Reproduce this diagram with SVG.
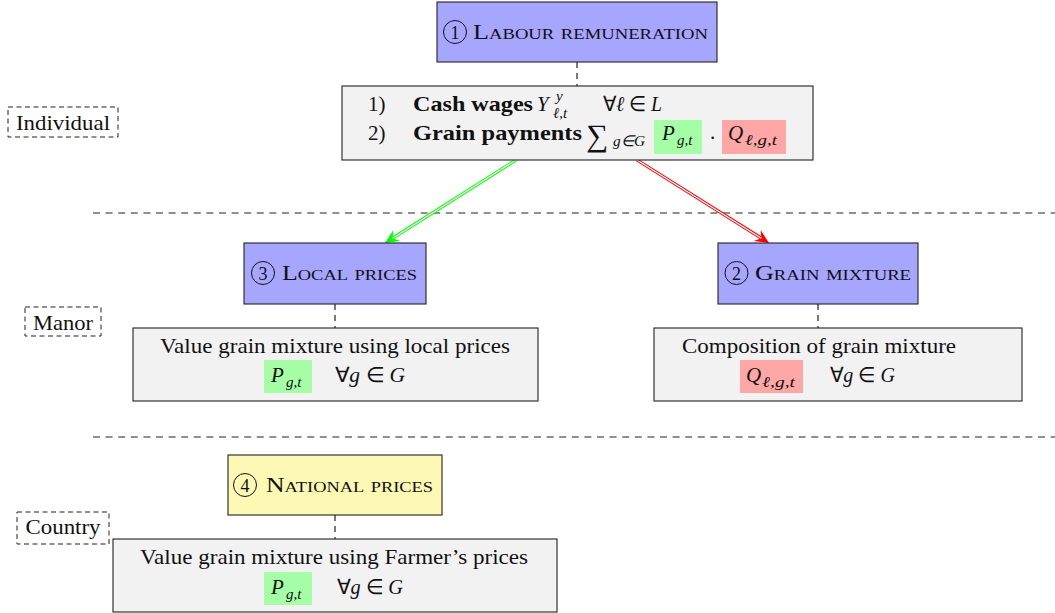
<svg xmlns="http://www.w3.org/2000/svg" width="1055" height="613" viewBox="0 0 1055 613" font-family="'Liberation Serif', 'Times New Roman', serif">
<defs>
<style>
text{font-family:'Liberation Serif','Times New Roman',serif;font-size:21px;fill:#111}
.sc{font-variant:small-caps}
.b{font-weight:bold}
.i{font-style:italic}
.s{font-size:15px;font-style:italic}
.m{text-anchor:middle}
.node{stroke:#222;stroke-width:1.1}
.blue{fill:#a6a6ff}
.gray{fill:#f2f2f2}
.yellow{fill:#fdf8b3}
.hg{fill:#a6ffa6}
.hr{fill:#ffa6a6}
.circ{fill:none;stroke:#111;stroke-width:1}
.dash{stroke:#222;stroke-width:1.2;stroke-dasharray:7 5.6;fill:none}
.vdash{stroke:#222;stroke-width:1.2;stroke-dasharray:6 5;fill:none}
.lab{fill:none;stroke:#222;stroke-width:1;stroke-dasharray:5 3.5}
.dig{font-size:18px;text-anchor:middle}
</style>
<marker id="ahg" viewBox="-6 -7 16 14" refX="0" refY="0" markerWidth="16" markerHeight="14" markerUnits="userSpaceOnUse" orient="auto"><path d="M9,0 L-5,-6.5 L0,0 L-5,6.5 z" fill="#00ff00"/></marker>
<marker id="ahr" viewBox="-6 -7 16 14" refX="0" refY="0" markerWidth="16" markerHeight="14" markerUnits="userSpaceOnUse" orient="auto"><path d="M9,0 L-5,-6.5 L0,0 L-5,6.5 z" fill="#ff0000"/></marker>
</defs>
<rect width="1055" height="613" fill="#fff"/>

<g id="separators">
<line class="dash" x1="93" y1="213" x2="1055" y2="213"/>
<line class="dash" x1="93" y1="437" x2="1055" y2="437"/>
</g>

<g id="label-individual">
<rect class="lab" x="8" y="107" width="110" height="30"/>
<text class="m" x="63" y="130" textLength="94" lengthAdjust="spacingAndGlyphs">Individual</text>
</g>
<g id="label-manor">
<rect class="lab" x="25" y="307" width="76" height="29"/>
<text class="m" x="63" y="330" textLength="60" lengthAdjust="spacingAndGlyphs">Manor</text>
</g>
<g id="label-country">
<rect class="lab" x="17" y="512" width="92" height="32"/>
<text class="m" x="63" y="534" textLength="75" lengthAdjust="spacingAndGlyphs">Country</text>
</g>

<g id="connectors">
<line class="vdash" x1="577" y1="62" x2="577" y2="86"/>
<line class="vdash" x1="335" y1="304" x2="335" y2="328"/>
<line class="vdash" x1="818" y1="304" x2="818" y2="328"/>
<line class="vdash" x1="335" y1="515" x2="335" y2="539"/>
<line x1="516" y1="160" x2="392.6" y2="238.18" stroke="#00ff00" stroke-width="3.2" marker-end="url(#ahg)"/>
<line x1="516" y1="160" x2="392.6" y2="238.18" stroke="#fff" stroke-width="1.3"/>
<line x1="637" y1="160" x2="761.4" y2="238.21" stroke="#ff0000" stroke-width="3.2" marker-end="url(#ahr)"/>
<line x1="637" y1="160" x2="761.4" y2="238.21" stroke="#fff" stroke-width="1.3"/>
</g>

<g id="node-labour">
<rect class="node blue" x="437" y="2" width="280" height="60"/>
<circle class="circ" cx="455" cy="32" r="11.5"/>
<text class="dig" x="455" y="38.5">1</text>
<text class="sc" x="473" y="39" textLength="235" lengthAdjust="spacingAndGlyphs">Labour remuneration</text>
</g>

<g id="node-payments">
<rect class="node gray" x="342" y="86" width="471" height="74"/>
<text x="368" y="111">1)</text>
<text class="b" x="413" y="111" textLength="120" lengthAdjust="spacingAndGlyphs">Cash wages</text>
<text class="i" x="537" y="111">Y</text>
<text class="s" x="556" y="101">y</text>
<text class="s" x="553" y="118">ℓ,t</text>
<text x="603" y="111" textLength="59" lengthAdjust="spacingAndGlyphs">∀<tspan class="i">ℓ</tspan> ∈ <tspan class="i">L</tspan></text>
<text x="368" y="140">2)</text>
<text class="b" x="413" y="140" textLength="169" lengthAdjust="spacingAndGlyphs">Grain payments</text>
<text x="586" y="146" style="font-size:31px">∑</text>
<text class="s" x="613" y="146" textLength="32" lengthAdjust="spacingAndGlyphs">g∈G</text>
<rect class="hg" x="654" y="120" width="48" height="34"/>
<text class="i" x="662" y="140">P</text>
<text class="s" x="677" y="145">g,t</text>
<text x="710" y="139">.</text>
<rect class="hr" x="722" y="120" width="64" height="34"/>
<text class="i" x="728" y="140">Q</text>
<text class="s" x="745" y="145" textLength="32" lengthAdjust="spacingAndGlyphs">ℓ,g,t</text>
</g>

<g id="node-local">
<rect class="node blue" x="244" y="243" width="182" height="61"/>
<circle class="circ" cx="263" cy="273" r="11.5"/>
<text class="dig" x="263" y="279.5">3</text>
<text class="sc" x="282" y="280" textLength="135" lengthAdjust="spacingAndGlyphs">Local prices</text>
</g>

<g id="node-local-detail">
<rect class="node gray" x="133" y="328" width="405" height="73"/>
<text class="m" x="335" y="353" textLength="350" lengthAdjust="spacingAndGlyphs">Value grain mixture using local prices</text>
<rect class="hg" x="264" y="360" width="48" height="33"/>
<text class="i" x="271" y="382">P</text>
<text class="s" x="286" y="387">g,t</text>
<text x="335" y="382" textLength="70" lengthAdjust="spacingAndGlyphs">∀<tspan class="i">g</tspan> ∈ <tspan class="i">G</tspan></text>
</g>

<g id="node-grain">
<rect class="node blue" x="718" y="243" width="200" height="61"/>
<circle class="circ" cx="736.5" cy="273" r="11.5"/>
<text class="dig" x="736.5" y="279.5">2</text>
<text class="sc" x="755" y="280" textLength="156" lengthAdjust="spacingAndGlyphs">Grain mixture</text>
</g>

<g id="node-grain-detail">
<rect class="node gray" x="654" y="328" width="368" height="73"/>
<text class="m" x="819" y="353" textLength="274" lengthAdjust="spacingAndGlyphs">Composition of grain mixture</text>
<rect class="hr" x="740" y="360" width="63" height="33"/>
<text class="i" x="746" y="382">Q</text>
<text class="s" x="762" y="387" textLength="33" lengthAdjust="spacingAndGlyphs">ℓ,g,t</text>
<text x="830" y="382" textLength="65" lengthAdjust="spacingAndGlyphs">∀<tspan class="i">g</tspan> ∈ <tspan class="i">G</tspan></text>
</g>

<g id="node-national">
<rect class="node yellow" x="228" y="455" width="214" height="60"/>
<circle class="circ" cx="245" cy="485" r="11.5"/>
<text class="dig" x="245" y="491.5">4</text>
<text class="sc" x="266" y="492" textLength="167" lengthAdjust="spacingAndGlyphs">National prices</text>
</g>

<g id="node-national-detail">
<rect class="node gray" x="113" y="539" width="444" height="73"/>
<text class="m" x="334" y="564" textLength="388" lengthAdjust="spacingAndGlyphs">Value grain mixture using Farmer’s prices</text>
<rect class="hg" x="264" y="572" width="48" height="33"/>
<text class="i" x="271" y="594">P</text>
<text class="s" x="286" y="599">g,t</text>
<text x="337" y="594" textLength="66" lengthAdjust="spacingAndGlyphs">∀<tspan class="i">g</tspan> ∈ <tspan class="i">G</tspan></text>
</g>
</svg>
